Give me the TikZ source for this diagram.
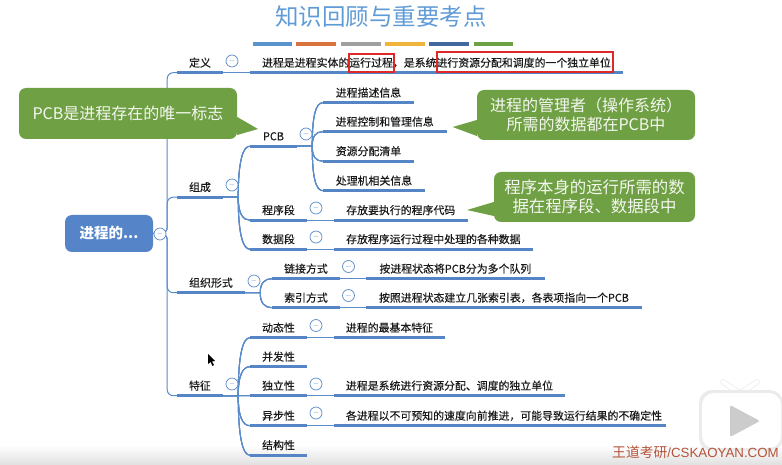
\documentclass[tikz,border=0pt]{standalone}
\usepackage{fontspec}
\setmainfont{Noto Sans CJK SC}
\newfontfamily\topicfont[FakeBold=0.25]{Noto Sans CJK SC}
\newfontfamily\markfont{Liberation Sans}
\usetikzlibrary{calc}
\definecolor{linkblue}{HTML}{5B8BC9}
\definecolor{barblue}{HTML}{5585C5}
\definecolor{rootblue}{HTML}{5585C8}
\definecolor{titleblue}{HTML}{5F9BD6}
\definecolor{notegreen}{HTML}{70A044}
\definecolor{boxred}{HTML}{DD2A28}
\definecolor{markred}{HTML}{B5533A}
\definecolor{bara}{HTML}{5B93CC}
\definecolor{barb}{HTML}{D9743F}
\definecolor{barc}{HTML}{A0A0A0}
\definecolor{bard}{HTML}{F0B33C}
\definecolor{bare}{HTML}{41689F}
\definecolor{barf}{HTML}{70A044}
\newcommand{\branch}[2]{\draw[conn] (#1.south east) -- ++(15,0) coordinate (b)
  .. controls ($(b)!0.7!(b |- #2.south west)$) and ($(#2.south west)+(-7,0)$) .. (#2.south west);}
\newcommand{\trunk}[1]{\draw[conn,rounded corners=6] (root.east) -- ++(14,0) |- (#1.south west);}
\begin{document}
\begin{tikzpicture}[
  x=1pt,y=-1pt,
  topic/.style={font=\topicfont\fontsize{10.9}{12}\selectfont,text=black!90,inner sep=0pt,minimum height=21pt,text height=9.6pt,text depth=0pt},
  fold/.style={circle,draw=linkblue,fill=white,text=linkblue,line width=0.7pt,inner sep=0pt,minimum size=12pt,font=\scriptsize},
  conn/.style={linkblue,line width=1pt},
  under/.style={barblue,line width=3pt},
  note/.style={fill=notegreen,rounded corners=7pt,text=white!92!notegreen,align=center,inner sep=0pt},
  redbox/.style={draw=boxred,line width=1.5pt,inner sep=0pt},
  ]
\clip (0,0) rectangle (782,465);
\shade[top color=white,bottom color=black!12] (0,445) rectangle (782,465);

% Title and colour bars.
\node[font=\fontsize{23.5}{26}\selectfont,text=titleblue,inner sep=0pt] (title) at (381,17) {知识回顾与重要考点};
\foreach \c/\xa/\xb in {bara/253/292,barb/296/336,barc/341/381,bard/385/425,bare/429/469,barf/474/513}
  \fill[\c] (\xa,42) rectangle (\xb,46);

% Root.
\node[fill=rootblue,rounded corners=7pt,text=white,font=\fontsize{14.5}{16}\selectfont\bfseries,
  minimum width=88pt,minimum height=37pt,inner sep=0pt] (root) at (109,233.5) {进程的...};

% First level.
\node[topic,minimum width=46pt] (def) at (200,62) {定义};
\node[topic,minimum width=46pt] (make) at (200,186.5) {组成};
\node[topic,minimum width=68pt] (form) at (211,282) {组织形式};
\node[topic,minimum width=46pt] (feat) at (200,385) {特征};

\node[topic,minimum width=373pt] (deftext) at (436.5,62) {进程是进程实体的运行过程，是系统进行资源分配和调度的一个独立单位};

% Composition.
\node[topic,minimum width=47pt] (pcb) at (273.5,135.5) {PCB};
\node[topic,minimum width=91pt] (pcba) at (368.5,92) {进程描述信息};
\node[topic,minimum width=123.5pt] (pcbb) at (384.75,121) {进程控制和管理信息};
\node[topic,minimum width=91pt] (pcbc) at (368.5,150.5) {资源分配清单};
\node[topic,minimum width=102pt] (pcbd) at (374,180) {处理机相关信息};
\node[topic,minimum width=57pt] (code) at (278.5,209.5) {程序段};
\node[topic,minimum width=133.5pt] (codetext) at (400.75,209.5) {存放要执行的程序代码};
\node[topic,minimum width=57pt] (data) at (278.5,238.5) {数据段};
\node[topic,minimum width=198.7pt] (datatext) at (433.35,238.5) {存放程序运行过程中处理的各种数据};

% Organisation.
\node[topic,minimum width=68pt] (link) at (306,268) {链接方式};
\node[topic,minimum width=178.7pt] (linktext) at (455.35,268) {按进程状态将PCB分为多个队列};
\node[topic,minimum width=68pt] (index) at (306,297) {索引方式};
\node[topic,minimum width=276pt] (indextext) at (504,297) {按照进程状态建立几张索引表，各表项指向一个PCB};

% Features.
\node[topic,minimum width=57pt] (dyn) at (278.5,327) {动态性};
\node[topic,minimum width=111pt] (dyntext) at (389.5,327) {进程的最基本特征};
\node[topic,minimum width=57pt] (conc) at (278.5,356) {并发性};
\node[topic,minimum width=57pt] (ind) at (278.5,385) {独立性};
\node[topic,minimum width=231pt] (indtext) at (449.5,385) {进程是系统进行资源分配、调度的独立单位};
\node[topic,minimum width=57pt] (async) at (278.5,415) {异步性};
\node[topic,minimum width=332pt] (asynctext) at (500,415) {\hspace*{8pt}各进程以不可预知的速度向前推进，可能导致运行结果的不确定性};
\node[topic,minimum width=57pt] (struct) at (278.5,444.5) {结构性};

% Connectors.
\foreach \n in {def,make,form,feat} \trunk{\n}
\foreach \p/\n in {make/pcb,make/code,make/data,pcb/pcba,pcb/pcbb,pcb/pcbc,pcb/pcbd,
  form/link,form/index,feat/dyn,feat/conc,feat/ind,feat/async,feat/struct} \branch{\p}{\n}
\foreach \p/\n in {def/deftext,code/codetext,data/datatext,link/linktext,index/indextext,
  dyn/dyntext,ind/indtext,async/asynctext} \draw[conn] (\p.south east) -- (\n.south west);

% Thick lines under the texts.
\foreach \n in {def,make,form,feat,deftext,pcb,pcba,pcbb,pcbc,pcbd,code,codetext,data,datatext,
  link,linktext,index,indextext,dyn,dyntext,conc,ind,indtext,async,asynctext,struct}
  \draw[under] (\n.south west) -- (\n.south east);

% Fold marks.
\node[fold] (foldroot) at (160,234) {$-$};
\foreach \n/\x/\y in {def/232/61,make/232/185,form/254/281,feat/232/384,pcb/306/134,code/316/208,
  data/316/237,link/348.5/266.5,index/348.5/295.5,dyn/316/325.5,ind/316/384,async/316/413}
  \node[fold] (fold\n) at (\x,\y) {$-$};

% Red marks.
\node[redbox,minimum width=45pt,minimum height=18pt] (boxrun) at (371.5,63) {};
\node[redbox,minimum width=176pt,minimum height=20pt] (boxunit) at (525,62) {};

% Green notes.
\node[note,minimum width=218pt,minimum height=51pt,font=\fontsize{16}{19}\selectfont] (notea) at (128,113.5) {PCB是进程存在的唯一标志};
\coordinate (tipa) at (258,129);
\fill[notegreen] (notea.east |- 0,117) -- (tipa) -- (notea.east |- 0,135) -- cycle;
\node[note,minimum width=218pt,minimum height=50pt,font=\fontsize{16}{19}\selectfont] (noteb) at (586,115)
  {进程的管理者（操作系统）\\所需的数据都在PCB中};
\coordinate (tipb) at (452.7,127);
\fill[notegreen] (noteb.west |- 0,120) -- (tipb) -- (noteb.west |- 0,136) -- cycle;
\node[note,minimum width=201pt,minimum height=50pt,font=\fontsize{16.4}{19}\selectfont] (notec) at (594.5,197)
  {程序本身的运行所需的数\\据在程序段、数据段中};
\coordinate (tipc) at (467,210);
\fill[notegreen] (notec.west |- 0,202) -- (tipc) -- (notec.west |- 0,216) -- cycle;

% Cursor.
\fill[black] (208,354) -- (208,364) -- (210.5,362) -- (212.5,366) -- (214,365) -- (212,361.5) -- (215,361) -- cycle;

% Player overlay.
\draw[black!6,line width=6pt,line cap=round] (723,382) -- (738,392) (757,382) -- (742,392);
\draw[white,line width=4pt,line cap=round] (723,382) -- (738,392) (757,382) -- (742,392);
\fill[black!8,rounded corners=13pt] (699,390) rectangle (783,451);
\fill[white,rounded corners=12pt] (702,393) rectangle (781,448);
\fill[black!20,rounded corners=2pt] (730,405) -- (760,421) -- (730,437) -- cycle;
\node[anchor=west,text=markred,font=\fontsize{13.8}{15}\selectfont,inner sep=0pt] (mark) at (612,452)
  {王道考研{\markfont\fontsize{13.3}{15}\selectfont/CSKAOYAN.COM}};
\end{tikzpicture}
\end{document}
